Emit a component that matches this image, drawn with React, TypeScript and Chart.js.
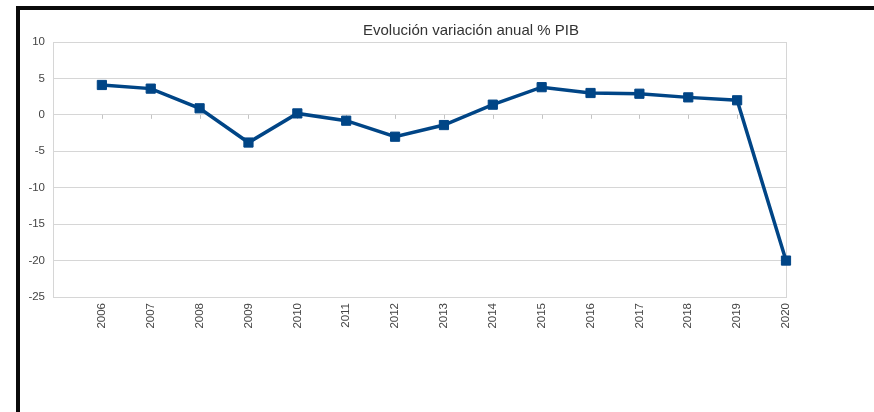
import React, { useEffect, useRef } from "react";
import { Chart, registerables } from "chart.js";

Chart.register(...registerables);

const TITLE = "Evolución variación anual % PIB";
const years = [2006, 2007, 2008, 2009, 2010, 2011, 2012, 2013, 2014, 2015, 2016, 2017, 2018, 2019, 2020];
const pibChange = [4.1, 3.6, 0.9, -3.8, 0.2, -0.8, -3.0, -1.4, 1.4, 3.8, 3.0, 2.9, 2.4, 2.0, -20.0];
const yTicksMin = -25;
const yTicksMax = 10;
const yStep = 5;

const LINE_COLOR = "#004586";
const GRID_COLOR = "#d6d6d6";
const TEXT_COLOR = "#444444";

const zeroTicks = {
  id: "zeroTicks",
  beforeDatasetsDraw(chart: any) {
    const x = chart.scales.x;
    const y = chart.scales.y;
    const ctx = chart.ctx;
    const y0 = y.getPixelForValue(0);
    ctx.save();
    ctx.strokeStyle = "#c4c4c4";
    ctx.lineWidth = 1;
    ctx.beginPath();
    for (const yr of years) {
      const px = Math.round(x.getPixelForValue(yr)) + 0.5;
      ctx.moveTo(px, y0);
      ctx.lineTo(px, y0 + 4);
    }
    ctx.stroke();
    ctx.restore();
  },
};

export default function App() {
  const ref = useRef<HTMLCanvasElement>(null);

  useEffect(() => {
    if (!ref.current) return;
    const chart = new Chart(ref.current, {
      type: "line",
      data: {
        datasets: [
          {
            label: "PIB",
            data: years.map((yr, i) => ({ x: yr, y: pibChange[i] })),
            borderColor: LINE_COLOR,
            backgroundColor: LINE_COLOR,
            borderWidth: 3.5,
            pointStyle: "rect",
            pointRadius: 6.5,
            pointBorderWidth: 1,
            pointBackgroundColor: LINE_COLOR,
            pointBorderColor: LINE_COLOR,
            tension: 0,
            clip: false,
          },
        ],
      },
      options: {
        animation: false,
        responsive: false,
        devicePixelRatio: 1,
        layout: { padding: 0 },
        plugins: {
          legend: { display: false },
          tooltip: { enabled: false },
          title: {
            display: true,
            text: TITLE,
            color: "#333333",
            font: { family: "'Liberation Sans', Arial, sans-serif", size: 15, weight: "normal" },
            padding: { top: 12, bottom: 2 },
          },
        },
        scales: {
          x: {
            type: "linear",
            min: years[0] - 1,
            max: years[years.length - 1],
            grid: {
              drawTicks: false,
              color: (c: any) => (c.tick && c.tick.value === years[years.length - 1] ? GRID_COLOR : "rgba(0,0,0,0)"),
            },
            border: { display: true, color: GRID_COLOR },
            ticks: {
              stepSize: 1,
              autoSkip: false,
              minRotation: 90,
              maxRotation: 90,
              padding: 6,
              color: TEXT_COLOR,
              font: { family: "'Liberation Sans', Arial, sans-serif", size: 11.5 },
              callback: (v: any) => (years.includes(Number(v)) ? String(v) : ""),
            },
            afterFit: (s: any) => {
              s.height = 115;
            },
          },
          y: {
            min: yTicksMin,
            max: yTicksMax,
            grid: { color: GRID_COLOR, drawTicks: false },
            border: { display: true, color: GRID_COLOR },
            ticks: {
              stepSize: yStep,
              padding: 8,
              color: TEXT_COLOR,
              font: { family: "'Liberation Sans', Arial, sans-serif", size: 11.5 },
            },
            afterFit: (s: any) => {
              s.width = 33;
            },
          },
          yRight: {
            position: "right",
            display: true,
            grid: { display: false, drawTicks: false },
            border: { display: false },
            ticks: { display: false },
            afterFit: (s: any) => {
              s.width = 136;
            },
          },
        },
      },
      plugins: [zeroTicks],
    });
    return () => chart.destroy();
  }, []);

  return (
    <div
      style={{
        position: "absolute",
        left: 0,
        top: 0,
        width: 874,
        height: 412,
        overflow: "hidden",
        background: "#ffffff",
      }}
    >
      <div
        style={{
          position: "absolute",
          left: 16,
          top: 6,
          width: 1000,
          height: 500,
          borderTop: "4px solid #0a0a0a",
          borderLeft: "4px solid #0a0a0a",
        }}
      />
      <canvas
        ref={ref}
        width={902}
        height={402}
        style={{ position: "absolute", left: 20, top: 10, width: 902, height: 402 }}
      />
    </div>
  );
}
